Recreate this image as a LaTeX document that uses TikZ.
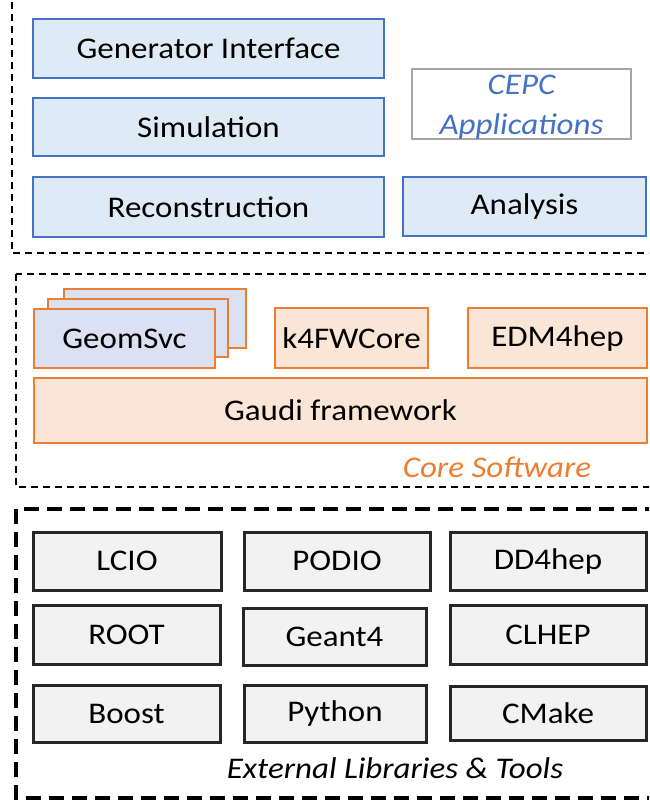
\documentclass[tikz,border=0pt]{standalone}
\usepackage{fontspec}
\setmainfont{Carlito}[FakeStretch=1.1]
\definecolor{bfill}{HTML}{DEEBF7}
\definecolor{bline}{HTML}{4472C4}
\definecolor{ofill}{HTML}{FBE5D6}
\definecolor{oline}{HTML}{ED7D31}
\definecolor{gfill}{HTML}{DAE1F3}
\definecolor{lfill}{HTML}{F2F2F2}
\definecolor{cgray}{HTML}{A6A6A6}
\tikzset{
  box/.style={draw, line width=2.8pt, inner sep=0pt, font=\fontsize{30}{36}\selectfont},
  bluebox/.style={box, draw=bline, fill=bfill},
  orangebox/.style={box, draw=oline, fill=ofill},
  geombox/.style={box, draw=oline, fill=gfill},
  libbox/.style={box, line width=3pt, draw=black!85, fill=lfill},
  frameA/.style={draw=black, line width=1.6pt, dash pattern=on 7pt off 5pt},
  frameB/.style={draw=black, line width=3.2pt, dash pattern=on 15pt off 8pt},
  caption/.style={font=\fontsize{30}{36}\selectfont\itshape, inner sep=0pt},
}
\begin{document}
\begin{tikzpicture}[x=1pt,y=-1pt]
\useasboundingbox (0,0) rectangle (649,801);
\clip (0,0) rectangle (649,801);
% frames
\draw[frameA] (12,-10) rectangle (670,253);
\draw[frameA] (16,274) rectangle (670,487);
\draw[frameB] (16,509) rectangle (670,798);
% top section
\node[bluebox, minimum width=351pt, minimum height=59pt] (gen) at (208.5,48.5) {Generator Interface};
\node[bluebox, minimum width=351pt, minimum height=58pt] (sim) at (208.5,127) {Simulation};
\node[bluebox, minimum width=351pt, minimum height=60pt] (rec) at (208.5,207) {Reconstruction};
\node[bluebox, minimum width=243pt, minimum height=59pt] (ana) at (524.5,206.5) {Analysis};
\node[draw=cgray, line width=2pt, minimum width=219pt, minimum height=70pt, inner sep=0pt] (cepc) at (521.5,104) {};
\node[font=\fontsize{30}{40}\selectfont\itshape, text=bline, align=center, inner sep=0pt] (cepct) at (521.5,107) {CEPC\\Applications};
% core section
\node[geombox, minimum width=182pt, minimum height=59pt] (g3) at (155,318.5) {};
\node[geombox, minimum width=180pt, minimum height=58pt] (g2) at (138,328) {};
\node[geombox, minimum width=181pt, minimum height=59pt] (geom) at (124.5,338.5) {GeomSvc};
\node[orangebox, minimum width=153pt, minimum height=60pt] (k4) at (351.5,338) {k4FWCore};
\node[orangebox, minimum width=179pt, minimum height=60pt] (edm) at (557.5,338) {EDM4hep};
\node[orangebox, minimum width=613pt, minimum height=65pt] (gaudi) at (340.5,410.5) {Gaudi framework};
\node[caption, text=oline] (core) at (497,467) {Core Software};
% external libraries
\node[libbox, minimum width=188pt, minimum height=58pt] (lcio) at (127,561) {LCIO};
\node[libbox, minimum width=186pt, minimum height=58pt] (podio) at (337,561) {PODIO};
\node[libbox, minimum width=196pt, minimum height=58pt] (dd4) at (548,561) {DD4hep};
\node[libbox, minimum width=187pt, minimum height=59pt] (root) at (126.5,634.5) {ROOT};
\node[libbox, minimum width=183pt, minimum height=57pt] (geant) at (334.5,636.5) {Geant4};
\node[libbox, minimum width=196pt, minimum height=59pt] (clhep) at (548,634.5) {CLHEP};
\node[libbox, minimum width=187pt, minimum height=57pt] (boost) at (126.5,713.5) {Boost};
\node[libbox, minimum width=182pt, minimum height=57pt] (python) at (335,713.5) {Python};
\node[libbox, minimum width=196pt, minimum height=54pt] (cmake) at (548,713) {CMake};
\node[caption, text=black] (ext) at (395,768) {External Libraries \& Tools};
\end{tikzpicture}
\end{document}
